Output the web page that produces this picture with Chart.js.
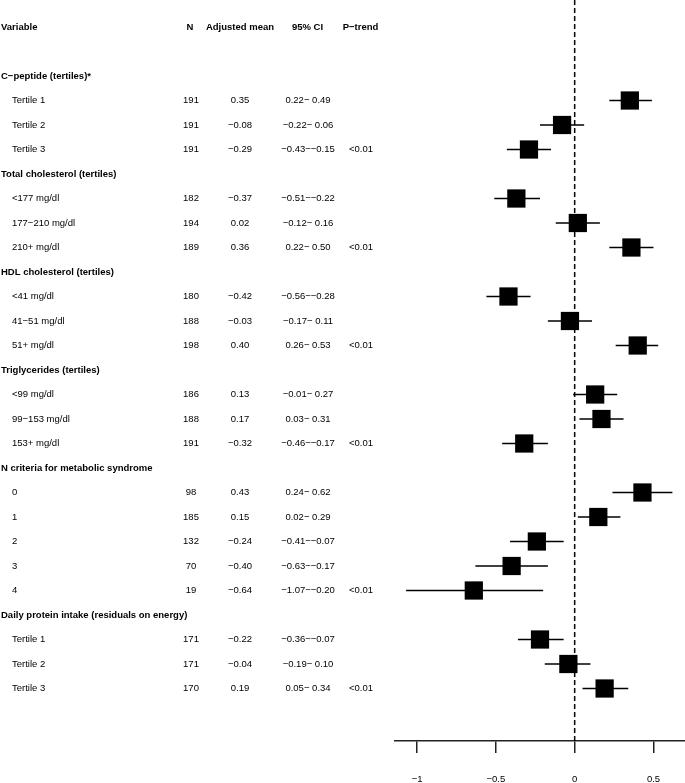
<!DOCTYPE html>
<html><head><meta charset="utf-8">
<script src="https://cdn.jsdelivr.net/npm/chart.js@4.4.1/dist/chart.umd.min.js"></script>
<style>html,body{margin:0;padding:0;background:#fff;}canvas{display:block;}</style>
</head><body>
<canvas id="c" width="685" height="783"></canvas>
<script>
// ---- data ----
const columnHeaders = ["Variable", "N", "Adjusted mean", "95% CI", "P\u2212trend"];
const rowLabels = [
  "C\u2212peptide (tertiles)*", "Tertile 1", "Tertile 2", "Tertile 3",
  "Total cholesterol (tertiles)", "<177 mg/dl", "177\u2212210 mg/dl", "210+ mg/dl",
  "HDL cholesterol (tertiles)", "<41 mg/dl", "41\u221251 mg/dl", "51+ mg/dl",
  "Triglycerides (tertiles)", "<99 mg/dl", "99\u2212153 mg/dl", "153+ mg/dl",
  "N criteria for metabolic syndrome", "0", "1", "2", "3", "4",
  "Daily protein intake (residuals on energy)", "Tertile 1", "Tertile 2", "Tertile 3"
];
const isGroupTitle = [true,false,false,false, true,false,false,false, true,false,false,false,
  true,false,false,false, true,false,false,false,false,false, true,false,false,false];
const nValues = [null,191,191,191, null,182,194,189, null,180,188,198, null,186,188,191,
  null,98,185,132,70,19, null,171,171,170];
const means = [null,0.35,-0.08,-0.29, null,-0.37,0.02,0.36, null,-0.42,-0.03,0.40,
  null,0.13,0.17,-0.32, null,0.43,0.15,-0.24,-0.40,-0.64, null,-0.22,-0.04,0.19];
const ciLow = [null,0.22,-0.22,-0.43, null,-0.51,-0.12,0.22, null,-0.56,-0.17,0.26,
  null,-0.01,0.03,-0.46, null,0.24,0.02,-0.41,-0.63,-1.07, null,-0.36,-0.19,0.05];
const ciHigh = [null,0.49,0.06,-0.15, null,-0.22,0.16,0.50, null,-0.28,0.11,0.53,
  null,0.27,0.31,-0.17, null,0.62,0.29,-0.07,-0.17,-0.20, null,-0.07,0.10,0.34];
const pTrend = ["","","","<0.01", "","","","<0.01", "","","","<0.01", "","","","<0.01",
  "","","","","","<0.01", "","","","<0.01"];
const xTicks = [-1, -0.5, 0, 0.5];

// ---- helpers ----
const FIRST_ROW = 2;
const MINUS = "\u2212";
function fmt(v){ return (v < 0 ? MINUS : "") + Math.abs(v).toFixed(2); }
function fmtCI(lo, hi){ return fmt(lo) + MINUS + (hi < 0 ? MINUS : " ") + Math.abs(hi).toFixed(2); }
function fmtTick(v){ return (v < 0 ? MINUS : "") + String(Math.abs(v)); }

const boxData = [];
means.forEach((m, i) => { if (m !== null) boxData.push({x: m, y: i + FIRST_ROW}); });

const FONT = '"Liberation Sans", Arial, Helvetica, sans-serif';

const forestPlugin = {
  id: 'forest',
  beforeDatasetsDraw(chart){
    const {ctx, chartArea, scales:{x, y}} = chart;
    ctx.save();
    ctx.strokeStyle = '#000';
    ctx.lineWidth = 1.5;
    ctx.setLineDash([5, 3]);
    ctx.beginPath();
    const x0 = x.getPixelForValue(0);
    ctx.moveTo(x0, chartArea.top);
    ctx.lineTo(x0, chartArea.bottom);
    ctx.stroke();
    ctx.setLineDash([]);
    ctx.lineWidth = 1.5;
    for (let i = 0; i < ciLow.length; i++) {
      if (ciLow[i] === null) continue;
      const py = y.getPixelForValue(i + FIRST_ROW);
      ctx.beginPath();
      ctx.moveTo(x.getPixelForValue(ciLow[i]), py);
      ctx.lineTo(x.getPixelForValue(ciHigh[i]), py);
      ctx.stroke();
    }
    ctx.restore();
  },
  afterDraw(chart){
    const {ctx, scales:{y}} = chart;
    ctx.save();
    ctx.fillStyle = '#000';
    ctx.textBaseline = 'middle';
    const colN = 191, colMean = 240, colCI = 308, colP = 361;
    const hy = y.getPixelForValue(0);
    ctx.font = 'bold 9.5px ' + FONT;
    ctx.textAlign = 'left';
    ctx.fillText(columnHeaders[0], 1, hy);
    ctx.textAlign = 'center';
    ctx.fillText(columnHeaders[1], 190, hy);
    ctx.fillText(columnHeaders[2], colMean, hy);
    ctx.fillText(columnHeaders[3], 307.5, hy + 0.5);
    ctx.fillText(columnHeaders[4], 360.5, hy + 0.5);
    for (let i = 0; i < rowLabels.length; i++) {
      const py = y.getPixelForValue(i + FIRST_ROW);
      if (isGroupTitle[i]) {
        ctx.font = 'bold 9.5px ' + FONT;
        ctx.textAlign = 'left';
        ctx.fillText(rowLabels[i], 1, py);
        continue;
      }
      ctx.font = '9.5px ' + FONT;
      ctx.textAlign = 'left';
      ctx.fillText(rowLabels[i], 12, py);
      ctx.textAlign = 'center';
      ctx.fillText(String(nValues[i]), colN, py);
      ctx.fillText(fmt(means[i]), colMean, py);
      ctx.fillText(fmtCI(ciLow[i], ciHigh[i]), colCI, py);
      if (pTrend[i]) ctx.fillText(pTrend[i], colP, py);
    }
    ctx.restore();
  }
};

new Chart(document.getElementById('c'), {
  type: 'scatter',
  data: {
    datasets: [{
      data: boxData,
      pointStyle: 'rect',
      pointRadius: 12.9,
      pointHoverRadius: 12.9,
      backgroundColor: '#000',
      borderColor: '#000',
      borderWidth: 0,
      clip: false
    }]
  },
  options: {
    responsive: false,
    animation: false,
    events: [],
    devicePixelRatio: 1,
    layout: { autoPadding: false, padding: { left: 395, right: 0, top: 0, bottom: 0 } },
    plugins: { legend: { display: false }, tooltip: { enabled: false } },
    scales: {
      x: {
        type: 'linear',
        min: -1.14,
        max: 0.7,
        afterBuildTicks: s => { s.ticks = xTicks.map(v => ({value: v})); },
        afterFit: s => { s.height = 42; s.paddingLeft = 0; s.paddingRight = 0; },
        grid: { drawOnChartArea: false, drawTicks: true, tickLength: 12, color: '#222', lineWidth: 1.5 },
        border: { display: true, color: '#222', width: 1.5 },
        ticks: {
          padding: 21,
          color: '#000',
          font: { family: FONT, size: 9.5 },
          callback: v => fmtTick(v),
          maxRotation: 0,
          autoSkip: false
        }
      },
      y: {
        type: 'linear',
        display: false,
        reverse: true,
        min: -1.102,
        max: 29.143
      }
    }
  },
  plugins: [forestPlugin]
});
</script>
</body></html>
